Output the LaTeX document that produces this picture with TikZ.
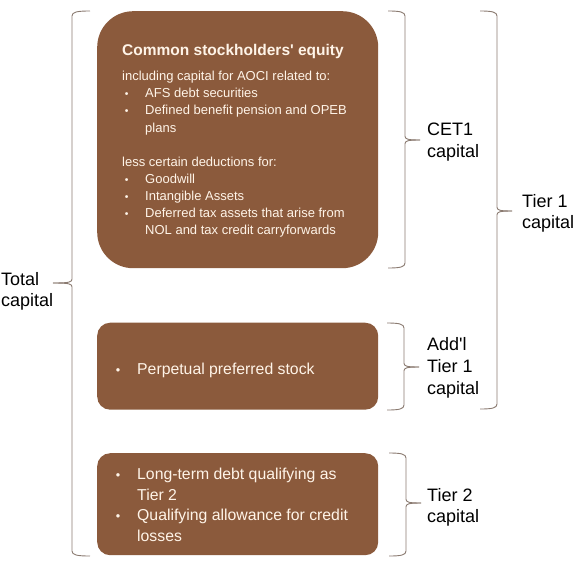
\documentclass[tikz,border=0pt]{standalone}
\usepackage{fontspec}
\usepackage{graphicx}
\setmainfont{Liberation Sans}
\definecolor{boxbrown}{HTML}{8B5A3C}
\definecolor{boxtext}{HTML}{FFF4E8}
\definecolor{bracegray}{HTML}{8A7A70}
\newcommand\capBraceR[4]{%
  \draw[bracestyle] ({#1-17},#2) .. controls ({#1-5},#2) and (#1,{#2+1}) .. (#1,{#2+5}) -- (#1,{#4-4}) .. controls (#1,{#4-1}) and ({#1+2},#4) .. ({#1+15},#4);
  \draw[bracestyle] ({#1-17},#3) .. controls ({#1-5},#3) and (#1,{#3-1}) .. (#1,{#3-5}) -- (#1,{#4+4}) .. controls (#1,{#4+1}) and ({#1+2},#4) .. ({#1+15},#4);}
\newcommand\capBraceL[4]{%
  \draw[bracestyle] ({#1+18},#2) .. controls ({#1+5},#2) and (#1,{#2+1}) .. (#1,{#2+5}) -- (#1,{#4-4}) .. controls (#1,{#4-1}) and ({#1-2},#4) .. ({#1-19},#4);
  \draw[bracestyle] ({#1+18},#3) .. controls ({#1+5},#3) and (#1,{#3-1}) .. (#1,{#3-5}) -- (#1,{#4+4}) .. controls (#1,{#4+1}) and ({#1-2},#4) .. ({#1-19},#4);}
\newcommand\bul[1]{\makebox[#1][l]{\hspace{0.6pt}\scalebox{0.8}{\textbullet}}}
\begin{document}
\begin{tikzpicture}[x=1pt,y=-1pt,
  capbox/.style={fill=boxbrown, draw=none, inner sep=0pt, anchor=north west},
  bracestyle/.style={draw=bracegray, line width=0.9pt},
  titleline/.style={anchor=base west, inner sep=0pt, text=boxtext, font=\bfseries\fontsize{15.5}{18}\selectfont},
  bodyline/.style={anchor=base west, inner sep=0pt, text=boxtext, font=\fontsize{13}{17}\selectfont},
  bigline/.style={anchor=base west, inner sep=0pt, text=boxtext, font=\fontsize{15.8}{20}\selectfont},
  lbl/.style={anchor=base west, inner sep=0pt, text=black, font=\fontsize{18}{21}\selectfont}]
\useasboundingbox (0,0) rectangle (575,562);
% boxes
\node[capbox, rounded corners=36pt, minimum width=281pt, minimum height=257pt] (cetbox) at (97,11) {};
\node[capbox, rounded corners=13pt, minimum width=281pt, minimum height=87pt] (addbox) at (97,322.5) {};
\node[capbox, rounded corners=13pt, minimum width=281pt, minimum height=102pt] (t2box) at (97,453) {};
% box 1 text
\node[titleline] (ttl) at (122,55) {Common stockholders\textquotesingle\ equity};
\node[bodyline] (b1) at (122,80.7) {including capital for AOCI related to:};
\node[bodyline] (b2) at (124,97.8) {\bul{21pt}AFS debt securities};
\node[bodyline] (b3) at (124,114.9) {\bul{21pt}Defined benefit pension and OPEB};
\node[bodyline] (b4) at (145,132) {plans};
\node[bodyline] (b5) at (122,166.2) {less certain deductions for:};
\node[bodyline] (b6) at (124,183.3) {\bul{21pt}Goodwill};
\node[bodyline] (b7) at (124,200.4) {\bul{21pt}Intangible Assets};
\node[bodyline] (b8) at (124,217.5) {\bul{21pt}Deferred tax assets that arise from};
\node[bodyline] (b9) at (145,234.6) {NOL and tax credit carryforwards};
% box 2 text
\node[bigline] (p1) at (115,374) {\bul{22pt}Perpetual preferred stock};
% box 3 text
\node[bigline] (q1) at (115,479.5) {\bul{22pt}Long-term debt qualifying as};
\node[bigline] (q2) at (137,500) {Tier 2};
\node[bigline] (q3) at (115,520.5) {\bul{22pt}Qualifying allowance for credit};
\node[bigline] (q4) at (137,541) {losses};
% braces
\capBraceL{72}{11}{556}{283}
\capBraceR{405}{11}{268}{140}
\capBraceR{497}{11}{409}{211}
\capBraceR{404}{323}{410}{367}
\capBraceR{406}{453}{556}{503}
% labels
\node[lbl] (tot1) at (1,285) {Total};
\node[lbl] (tot2) at (1,306) {capital};
\node[lbl] (cet1) at (427,135) {CET1};
\node[lbl] (cet2) at (427,157) {capital};
\node[lbl] (ta1) at (522,207) {Tier 1};
\node[lbl] (ta2) at (522,228.5) {capital};
\node[lbl] (ad1) at (427,350.5) {Add\textquotesingle l};
\node[lbl] (ad2) at (427,372.5) {Tier 1};
\node[lbl] (ad3) at (427,394) {capital};
\node[lbl] (tb1) at (427,501) {Tier 2};
\node[lbl] (tb2) at (427,522) {capital};
\end{tikzpicture}
\end{document}
